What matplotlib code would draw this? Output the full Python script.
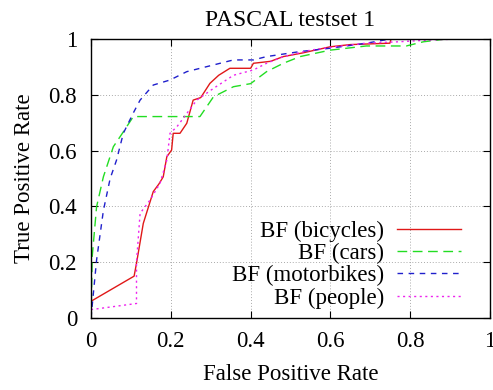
import matplotlib

matplotlib.use("Agg")
import matplotlib.pyplot as plt  # noqa: E402

# ROC curves
bicycles_fpr = [0.0, 0.108, 0.114, 0.131, 0.156, 0.170, 0.181, 0.190, 0.202, 0.206, 0.223, 0.240,
                0.256, 0.275, 0.298, 0.320, 0.348, 0.400, 0.407, 0.450, 0.482, 0.530, 0.599,
                0.650, 0.749, 0.752, 1.0]
bicycles_tpr = [0.06, 0.15, 0.196, 0.339, 0.453, 0.480, 0.506, 0.578, 0.602, 0.662, 0.662, 0.698,
                0.781, 0.790, 0.841, 0.870, 0.895, 0.895, 0.913, 0.920, 0.937, 0.950, 0.972,
                0.980, 0.985, 1.0, 1.0]

cars_fpr = [0.0, 0.003, 0.014, 0.031, 0.056, 0.080, 0.106, 0.273, 0.307, 0.357, 0.400, 0.440,
            0.482, 0.524, 0.599, 0.690, 0.790, 0.833, 0.890, 1.0]
cars_tpr = [0.0, 0.22, 0.399, 0.506, 0.614, 0.665, 0.722, 0.722, 0.793, 0.829, 0.840, 0.883,
            0.913, 0.937, 0.960, 0.975, 0.975, 0.990, 1.0, 1.0]

motorbikes_fpr = [0.0, 0.014, 0.031, 0.048, 0.064, 0.081, 0.106, 0.123, 0.156, 0.198, 0.240,
                  0.307, 0.357, 0.407, 0.440, 0.524, 0.600, 0.690, 0.750, 1.0]
motorbikes_tpr = [0.0, 0.208, 0.385, 0.500, 0.566, 0.662, 0.735, 0.781, 0.835, 0.853, 0.883,
                  0.907, 0.925, 0.925, 0.937, 0.955, 0.967, 0.985, 1.0, 1.0]

people_fpr = [0.0, 0.114, 0.114, 0.123, 0.148, 0.173, 0.190, 0.198, 0.215, 0.240, 0.265, 0.307,
              0.357, 0.407, 0.440, 0.482, 0.550, 0.610, 0.690, 0.770, 0.860, 0.920, 1.0]
people_tpr = [0.03, 0.052, 0.20, 0.375, 0.423, 0.483, 0.566, 0.662, 0.685, 0.733, 0.781, 0.823,
              0.870, 0.889, 0.913, 0.937, 0.960, 0.972, 0.985, 0.990, 0.997, 1.0, 1.0]

series_labels = ["BF (bicycles)", "BF (cars)", "BF (motorbikes)", "BF (people)"]
ticks = [0, 0.2, 0.4, 0.6, 0.8, 1]
tick_labels = ["0", "0.2", "0.4", "0.6", "0.8", "1"]

plt.rcParams["font.family"] = ["Liberation Serif", "DejaVu Serif"]
FS = 16.5

fig = plt.figure(figsize=(4.93, 3.90), dpi=100)
ax = fig.add_axes([0.1846, 0.1846, 0.8094, 0.7154])

ax.plot(bicycles_fpr, bicycles_tpr, color="#e01818", lw=1.0, label=series_labels[0])
ax.plot(cars_fpr, cars_tpr, color="#22dd22", lw=1.0, dashes=(7, 4), label=series_labels[1])
ax.plot(motorbikes_fpr, motorbikes_tpr, color="#2020cc", lw=1.0, dashes=(4, 4),
        label=series_labels[2])
ax.plot(people_fpr, people_tpr, color="#ee22ee", lw=1.0, dashes=(1.5, 2.5),
        label=series_labels[3])

ax.set_xlim(0, 1)
ax.set_ylim(0, 1)
ax.set_xticks(ticks)
ax.set_xticklabels(tick_labels)
ax.set_yticks(ticks)
ax.set_yticklabels(tick_labels)
ax.tick_params(direction="in", length=5, width=0.8, top=True, right=True,
               labelsize=FS, colors="black")
ax.tick_params(axis="x", pad=9)
ax.tick_params(axis="y", pad=10)
ax.grid(True, color="#aaaaaa", linestyle=(0, (1, 2)), linewidth=0.7)
for spine in ax.spines.values():
    spine.set_linewidth(1.0)

ax.set_title("PASCAL testset 1", fontsize=17, pad=9)
ax.set_xlabel("False Positive Rate", fontsize=FS, labelpad=9)
ax.set_ylabel("True Positive Rate", fontsize=FS, labelpad=10)

ax.legend(loc="lower right", frameon=False, markerfirst=False, fontsize=FS,
          handlelength=2.8, labelspacing=0.05, borderaxespad=0.0, handletextpad=0.55,
          bbox_to_anchor=(0.95, 0.0))
for t in ax.get_legend().get_texts():
    t.set_ha("right")

fig.savefig("out.png", dpi=100)
